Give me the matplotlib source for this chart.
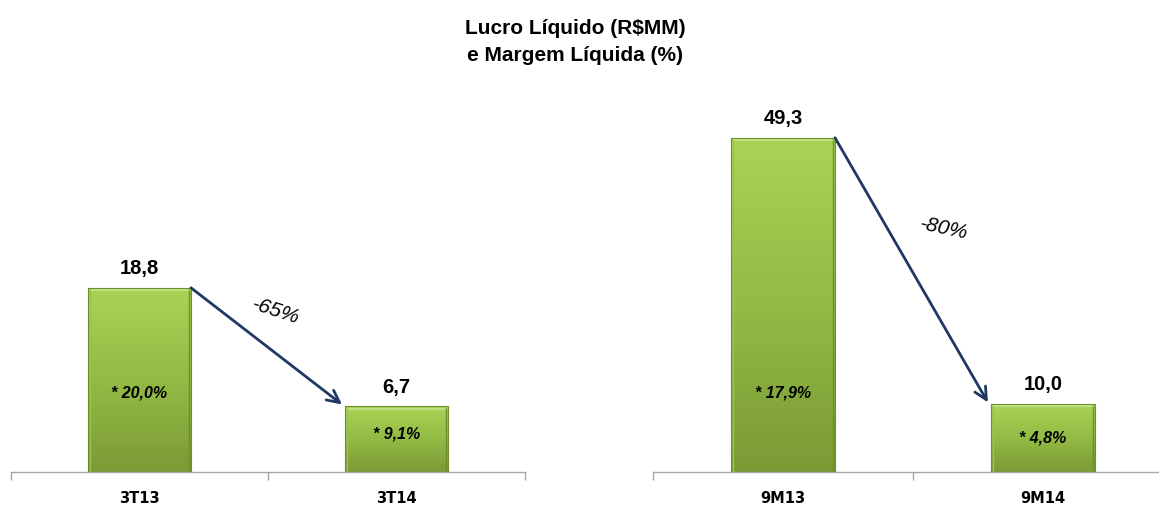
import numpy as np
import matplotlib
matplotlib.use("Agg")
import matplotlib.pyplot as plt
from matplotlib.colors import LinearSegmentedColormap

plt.rcParams['font.family'] = ['Liberation Sans', 'DejaVu Sans']

title_lines = ["Lucro Líquido (R$MM)", "e Margem Líquida (%)"]
left_cats = ["3T13", "3T14"]
left_vals = [18.8, 6.7]
left_margins = ["* 20,0%", "* 9,1%"]
left_change = "-65%"
right_cats = ["9M13", "9M14"]
right_vals = [49.3, 10.0]
right_margins = ["* 17,9%", "* 4,8%"]
right_change = "-80%"

W, H = 1159, 507
fig = plt.figure(figsize=(W / 100, H / 100), dpi=100)

def px_axes(x0, x1, ybot, ytop):
    return fig.add_axes([x0 / W, 1 - ybot / H, (x1 - x0) / W, (ybot - ytop) / H])

cmap = LinearSegmentedColormap.from_list("g", ["#7b9a35", "#93bb45", "#aad356"])
arrow_col = "#1f3864"

def draw_panel(ax, cats, vals, margins, change, ymax, margin_fracs, change_xy, change_rot):
    ax.set_xlim(-0.5, 1.5)
    ax.set_ylim(0, ymax)
    x = np.arange(len(cats))
    bw = 0.4
    bars = ax.bar(x, vals, width=bw, color="none", edgecolor="#6f8c2e", linewidth=0.8, zorder=3)
    grad = np.linspace(0, 1, 256).reshape(-1, 1)
    for b in bars:
        x0, y0 = b.get_x(), b.get_y()
        w, h = b.get_width(), b.get_height()
        im = ax.imshow(grad, extent=[x0, x0 + w, y0, y0 + h], origin="lower",
                       cmap=cmap, aspect="auto", zorder=2)
        im.set_clip_path(b)
        ax.plot([x0 + 0.012, x0 + w - 0.012], [y0 + h - ymax * 0.006] * 2,
                color="#c5e38a", lw=1.2, zorder=4, solid_capstyle="butt")
        ax.plot([x0 + 0.006] * 2, [y0 + ymax * 0.004, y0 + h - ymax * 0.008],
                color="#9ac24c", lw=1.0, zorder=4)
        ax.plot([x0 + w - 0.006] * 2, [y0 + ymax * 0.004, y0 + h - ymax * 0.008],
                color="#6f8d2c", lw=1.0, zorder=4)
    for xi, v in zip(x, vals):
        ax.annotate(f"{v:.1f}".replace(".", ","), (xi, v), xytext=(0, 7),
                    textcoords="offset points", ha="center", va="bottom",
                    fontsize=14.5, fontweight="bold", color="black", zorder=5)
    for xi, m, f in zip(x, margins, margin_fracs):
        ax.text(xi, f * ymax, m, ha="center", va="center", fontsize=11.5,
                fontweight="bold", fontstyle="italic", color="black", zorder=5)
    ax.annotate("", xy=(x[1] - bw / 2 - 0.012, vals[1] + ymax * 0.005),
                xytext=(x[0] + bw / 2, vals[0]),
                arrowprops=dict(arrowstyle="->", color=arrow_col, lw=2,
                                mutation_scale=22, shrinkA=0, shrinkB=0), zorder=6)
    ax.text(change_xy[0], change_xy[1] * ymax, change, ha="center", va="center",
            fontsize=15, fontstyle="italic", rotation=change_rot, color="black", zorder=5)
    for s in ["top", "right", "left"]:
        ax.spines[s].set_visible(False)
    ax.spines["bottom"].set_color("#a6a6a6")
    ax.spines["bottom"].set_linewidth(1.0)
    ax.set_yticks([])
    ax.set_xticks([-0.5, 0.5, 1.5], minor=True)
    ax.tick_params(axis="x", which="minor", length=6, color="#a6a6a6", width=1)
    ax.set_xticks(x)
    ax.set_xticklabels(cats, fontsize=10.5, fontweight="bold", family="DejaVu Sans")
    ax.tick_params(axis="x", which="major", length=0, pad=14)
    ax.set_facecolor("none")

ax1 = px_axes(11, 525, 472, 100)
draw_panel(ax1, left_cats, left_vals, left_margins, left_change,
           (472 - 100) / 9.8, [0.213, 0.103], (0.53, 0.433), -18)

ax2 = px_axes(653, 1173, 472, 100)
draw_panel(ax2, right_cats, right_vals, right_margins, right_change,
           (472 - 100) / 6.78, [0.213, 0.092], (0.62, 0.655), -12)

for i, line in enumerate(title_lines):
    fig.text(575 / W, 1 - (34 + 27 * i) / H, line, ha="center", va="baseline",
             fontsize=15, fontweight="bold")

fig.savefig("out.png", dpi=100, facecolor="white")
